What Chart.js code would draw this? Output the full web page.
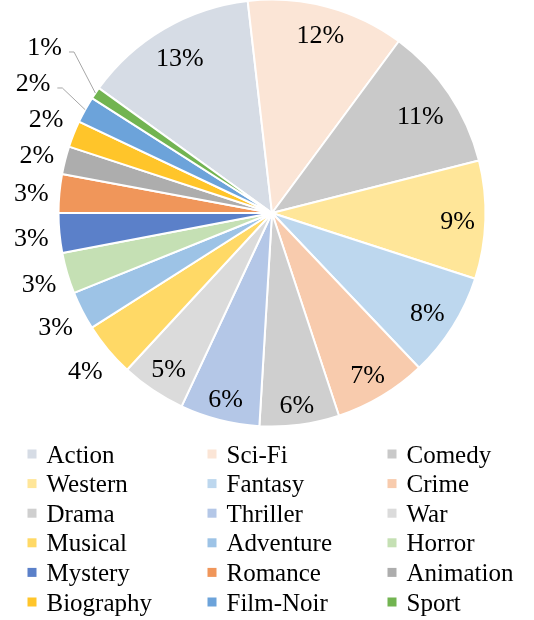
<!DOCTYPE html>
<html>
<head>
<meta charset="utf-8">
<script src="https://cdn.jsdelivr.net/npm/chart.js@4.4.1/dist/chart.umd.min.js"></script>
<style>
html,body{margin:0;padding:0;background:#ffffff;}
#wrap{width:534px;height:620px;position:relative;}
</style>
</head>
<body>
<div id="wrap"><canvas id="c" width="534" height="620"></canvas></div>
<script>
// ---- data ----
const genres = ["Action","Sci-Fi","Comedy","Western","Fantasy","Crime","Drama","Thriller","War",
                "Musical","Adventure","Horror","Mystery","Romance","Animation","Biography","Film-Noir","Sport"];
const shares = [13.2, 11.9, 10.9, 8.9, 7.9, 7.0, 6.0, 6.0, 4.9,
                4.1, 2.9, 3.1, 3.0, 2.9, 2.1, 2.0, 2.0, 0.9];
const sliceColors = ["#D6DCE5","#FBE5D6","#C9C9C9","#FFE699","#BDD7EE","#F8CBAD","#CFCFCF","#B4C7E7","#DBDBDB",
                     "#FFD966","#9DC3E6","#C5E0B4","#5B80C9","#F0965A","#ADADAD","#FFC52A","#6CA3DA","#72B451"];

// ---- style constants ----
const FONT = '"Liberation Serif", "Times New Roman", serif';
const LABEL_SIZE = 26;
const LEGEND_SIZE = 25;

const pieLabels = {
  id: 'pieLabels',
  afterDatasetsDraw(chart) {
    const ctx = chart.ctx;
    const meta = chart.getDatasetMeta(0);
    const data = chart.data.datasets[0].data;
    const total = data.reduce((a, b) => a + b, 0);
    ctx.save();
    ctx.font = LABEL_SIZE + 'px ' + FONT;
    ctx.textAlign = 'center';
    ctx.textBaseline = 'alphabetic';
    const h = LABEL_SIZE * 0.75;
    const items = [];
    meta.data.forEach((arc, i) => {
      const p = arc.getProps(['x', 'y', 'startAngle', 'endAngle', 'outerRadius'], true);
      const mid = (p.startAngle + p.endAngle) / 2;
      const ux = Math.cos(mid), uy = Math.sin(mid);
      const frac = data[i] / total;
      const txt = Math.round(frac * 100) + '%';
      const w = ctx.measureText(txt).width;
      const r = p.outerRadius;
      const inside = frac >= 0.045;
      let d;
      if (inside) {
        const margin = 10;
        const fits = (dd) => {
          const cx = ux * dd, cy = uy * dd;
          for (const sx of [-1, 1]) for (const sy of [-1, 1]) {
            const px = cx + sx * w / 2, py = cy + sy * h / 2;
            if (Math.hypot(px, py) > r - margin) return false;
          }
          return true;
        };
        let lo = 0, hi = r;
        for (let k = 0; k < 40; k++) { const m = (lo + hi) / 2; if (fits(m)) lo = m; else hi = m; }
        d = lo;
      } else {
        d = r + 10 + Math.abs(ux) * w / 2 + Math.abs(uy) * h / 2;
      }
      items.push({txt, w, inside, ux, uy, r, cx: p.x, cy: p.y, lx: p.x + ux * d, ly: p.y + uy * d, leader: false});
    });
    // resolve collisions of outside labels on the left side (bottom to top)
    const left = items.filter(it => !it.inside && it.ux < 0).sort((a, b) => b.ly - a.ly);
    const SPACING = 36;
    let prevY = null;
    left.forEach(it => {
      if (prevY !== null && it.ly > prevY - SPACING) {
        const ny = prevY - SPACING;
        const shift = it.ly - ny;
        it.ly = ny;
        if (shift > 12) { it.lx -= 26; it.leader = true; }
      }
      prevY = it.ly;
    });
    // leaders
    ctx.strokeStyle = '#A6A6A6';
    ctx.lineWidth = 1;
    items.forEach(it => {
      if (!it.leader) return;
      const sx = it.lx + it.w / 2 + 7, sy = it.ly + 7;
      ctx.beginPath();
      ctx.moveTo(sx, sy);
      ctx.lineTo(sx + 5, sy);
      ctx.lineTo(it.cx + it.ux * it.r, it.cy + it.uy * it.r);
      ctx.stroke();
    });
    ctx.fillStyle = '#000000';
    items.forEach(it => {
      ctx.fillText(it.txt, it.lx, it.ly + LABEL_SIZE * 0.40);
    });
    ctx.restore();
  }
};

const gridLegend = {
  id: 'gridLegend',
  afterDraw(chart) {
    const ctx = chart.ctx;
    const labels = chart.data.labels;
    const cols = chart.data.datasets[0].backgroundColor;
    const colX = [27.5, 207.5, 387.5];
    const top = 454, rowH = 29.6, sq = 9;
    ctx.save();
    ctx.font = LEGEND_SIZE + 'px ' + FONT;
    ctx.textAlign = 'left';
    ctx.textBaseline = 'alphabetic';
    labels.forEach((lab, i) => {
      const c = i % 3, rr = Math.floor(i / 3);
      const yc = top + rr * rowH;
      ctx.fillStyle = cols[i];
      ctx.fillRect(colX[c], yc - sq / 2, sq, sq);
      ctx.fillStyle = '#000000';
      ctx.fillText(lab, colX[c] + 19, yc + LEGEND_SIZE * 0.34);
    });
    ctx.restore();
  }
};

new Chart(document.getElementById('c'), {
  type: 'pie',
  data: {
    labels: genres,
    datasets: [{
      data: shares,
      backgroundColor: sliceColors,
      borderColor: '#FFFFFF',
      borderWidth: 2,
      hoverOffset: 0
    }]
  },
  options: {
    responsive: false,
    animation: false,
    rotation: -54.2,
    radius: 213.5,
    layout: { padding: { left: 10, right: 0, top: 0, bottom: 194 } },
    plugins: {
      legend: { display: false },
      tooltip: { enabled: false }
    }
  },
  plugins: [pieLabels, gridLegend]
});
</script>
</body>
</html>
